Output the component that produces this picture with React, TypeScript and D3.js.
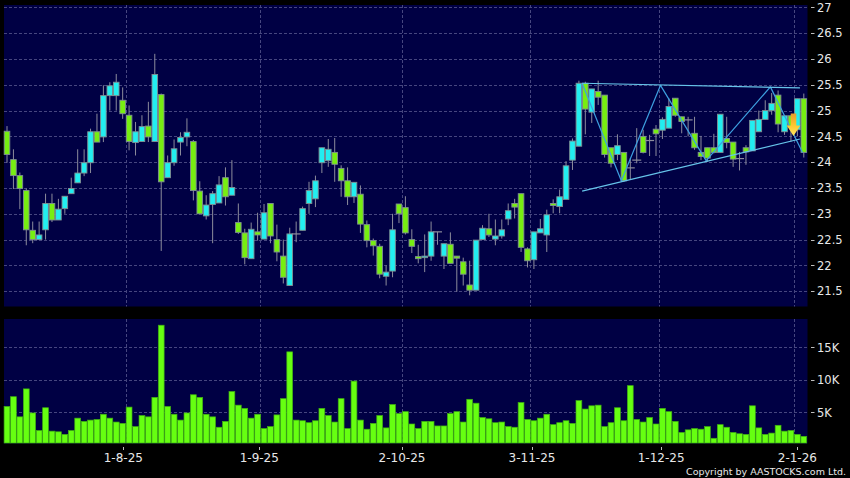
import React from "react";
import * as d3 from "d3";

const opens = [24.60,24.05,23.74,23.45,22.68,22.50,22.69,23.20,22.88,23.10,
23.39,23.60,23.79,23.99,24.59,24.49,25.29,25.29,25.20,24.91,
24.38,24.40,24.70,24.40,25.31,23.70,23.99,24.39,24.49,24.40,
23.44,22.96,23.18,23.21,23.70,23.36,22.83,22.63,22.13,22.65,
22.51,23.20,22.50,22.18,21.61,22.61,22.68,23.20,23.29,23.99,
24.03,24.19,23.88,23.64,23.33,23.38,22.79,22.48,22.37,21.79,
21.89,23.19,23.12,22.50,22.17,22.15,22.18,22.65,22.18,22.41,
22.18,22.07,21.62,21.52,22.50,22.71,22.51,22.57,22.90,23.20,
23.39,22.32,22.11,22.63,22.59,23.20,23.14,23.28,24.04,24.31,
25.53,24.97,25.37,25.30,24.28,24.15,24.19,23.89,24.04,24.50,
24.42,24.64,24.62,24.66,25.24,24.88,24.82,24.56,24.19,24.28,
24.28,24.19,24.46,24.39,24.07,24.28,24.22,24.59,24.83,25.00,
25.30,24.59,24.90,24.63,25.23];
const closes = [24.15,23.74,23.49,22.69,22.50,22.59,23.20,22.88,23.09,23.34,
23.49,23.79,23.99,24.59,24.39,25.29,25.48,25.55,24.94,24.40,
24.59,24.69,24.49,25.70,23.62,23.99,24.26,24.48,24.58,23.45,
23.00,23.17,23.39,23.56,23.33,23.51,22.64,22.15,22.70,22.59,
23.02,22.57,22.26,21.77,22.61,22.61,23.10,23.45,23.64,24.28,
24.25,23.96,23.64,23.33,23.61,22.80,22.48,22.38,21.83,21.87,
22.69,23.00,22.63,22.37,22.13,22.18,22.65,22.65,22.42,22.04,
22.14,21.83,21.52,22.49,22.72,22.59,22.57,22.69,23.06,23.13,
22.35,22.09,22.65,22.71,22.98,23.16,23.33,23.93,24.41,25.53,
25.03,25.42,25.26,24.15,23.98,24.32,23.64,23.89,24.04,24.19,
24.42,24.55,24.83,25.08,24.91,24.79,24.82,24.28,24.11,24.08,
24.19,24.93,24.38,24.06,24.07,24.20,24.81,24.83,25.00,25.14,
24.74,24.90,24.69,25.23,24.19];
const highs = [24.70,24.25,23.80,23.49,22.85,22.85,23.39,23.39,23.29,23.34,
23.70,24.25,24.25,24.65,24.94,25.49,25.55,25.71,25.45,25.10,
24.78,24.91,25.17,26.10,25.33,24.13,24.44,24.58,24.85,24.43,
23.63,23.36,23.44,23.73,23.90,24.04,23.20,22.71,22.83,23.02,
23.19,23.20,22.79,22.50,22.73,22.85,23.14,23.62,23.74,24.28,
24.45,24.47,23.94,23.90,23.61,23.55,22.87,22.52,22.42,22.00,
23.00,23.19,23.34,22.70,22.40,22.60,22.85,22.65,22.42,22.64,
22.18,22.15,22.09,22.49,22.78,23.00,22.89,22.89,23.20,23.29,
23.39,22.35,22.65,22.90,23.08,23.28,23.47,24.02,24.46,25.58,
25.56,25.42,25.58,25.30,24.28,24.54,24.19,24.08,24.66,24.63,
24.53,24.72,24.87,25.24,25.24,24.88,24.88,24.88,24.51,24.28,
24.55,24.93,24.88,24.39,24.20,24.33,24.81,25.00,25.20,25.34,
25.39,24.90,24.90,25.23,25.33];
const lows = [23.99,23.48,23.09,22.39,22.43,22.50,22.50,22.84,22.88,23.00,
23.39,23.60,23.73,23.79,24.39,24.39,25.00,25.00,24.84,24.23,
24.13,24.40,24.39,24.40,22.28,23.70,23.93,24.13,24.31,23.26,
23.00,22.89,22.43,23.21,23.16,23.36,22.61,22.02,22.13,22.48,
22.51,22.43,22.08,21.65,21.61,22.45,22.68,23.00,23.13,23.79,
23.91,23.62,23.33,23.17,23.21,22.63,22.35,22.19,21.75,21.61,
21.77,22.82,22.60,22.24,22.04,21.87,22.09,22.40,21.93,22.04,
21.49,21.61,21.42,21.52,22.50,22.55,22.39,22.52,22.78,22.91,
22.26,21.96,21.93,22.63,22.26,23.01,23.01,23.28,23.85,24.31,
24.54,24.76,25.11,24.09,23.90,24.04,23.62,23.67,23.98,24.17,
24.12,24.12,24.45,24.66,24.88,24.56,24.50,24.24,24.04,24.01,
24.17,24.19,24.27,23.91,23.84,23.95,24.22,24.59,24.83,24.92,
24.58,24.53,24.40,24.50,24.09];
const volumesK = [5.9,7.4,4.3,8.6,4.9,2.2,5.7,2.1,2.0,1.6,
2.2,4.1,3.6,3.8,3.9,4.7,4.1,3.5,3.3,5.8,
2.8,4.5,4.3,7.3,18.4,5.9,4.7,3.8,4.9,7.7,
7.3,4.7,4.3,2.7,3.6,8.2,6.1,5.6,4.1,4.7,
2.5,2.8,4.6,7.1,14.3,3.8,3.7,3.4,3.7,5.6,
4.5,3.5,7.1,2.5,9.8,3.8,2.4,3.3,4.5,2.6,
6.2,4.8,5.1,3.2,2.5,3.6,3.6,2.9,2.9,4.8,
5.1,3.5,7.0,6.4,4.2,4.0,3.4,3.5,2.8,2.7,
6.5,3.9,3.7,4.1,4.7,3.1,3.4,3.7,3.3,6.8,
5.5,6.0,6.1,2.8,3.4,5.7,3.7,9.1,3.9,3.5,
4.2,3.2,5.6,5.1,3.6,1.9,2.3,2.5,2.4,2.8,
1.0,3.1,2.7,1.9,1.7,1.6,6.0,2.6,1.6,1.8,
3.0,2.1,2.2,1.6,1.3];

const priceTicks = [27,26.5,26,25.5,25,24.5,24,23.5,23,22.5,22,21.5];
const volumeTicks = [5,10,15];
const dateLabels = ["1-8-25","1-9-25","2-10-25","3-11-25","1-12-25","2-1-26"];
const dateTickIndex = [18.1,39.26,61.47,81.7,101.8,123.0];
const dateGridIndex = [18.52,39.37,61.47,81.4,101.5,122.5];

const upperTrend: [number, number][] = [[89.5,25.53],[123.4,25.44]];
const lowerTrend: [number, number][] = [[89.5,23.44],[123.4,24.45]];
const zigzag: [number, number][] = [[89.5,25.53],[95.6,23.64],[101.7,25.49],[108.8,24.03],[118.8,25.46],[123.8,24.19]];
const arrowAt = { index: 122.4, price: 24.51 };

const W = 850, H = 478;
const plotL = 4, plotR = 807.5;
const priceTop = 5, priceBottom = 306.5;
const volTop = 319, volBottom = 443.5;

const BG = "#000044";
const GRID = "#46467f";
const WICK = "#8c8c9c";
const UP = "#22eef0";
const DOWN = "#77ee11";
const BODY_STROKE = "#7f8f92";
const VOL = "#66ff11";
const VOL_STROKE = "#3fae12";
const AXIS = "#e8e8e8";
const FONT = "'DejaVu Sans', sans-serif";

const x = d3.scaleLinear().domain([0, 124]).range([7, 803.8]);
const y = d3.scaleLinear().domain([27, 21.5]).range([7.4, 291.2]);
const yVol = d3.scaleLinear().domain([5, 15]).range([412.3, 347.3]);
const line = d3.line<[number, number]>().x(d => x(d[0])).y(d => y(d[1]));

const candles = opens.map((o, i) => ({ i, o, c: closes[i], h: highs[i], l: lows[i], v: volumesK[i] }));

export default function App() {
  const ax = x(arrowAt.index), ay = y(arrowAt.price);
  const arrowPath = `M${ax - 2.8},${ay - 22.5}H${ax + 2.8}V${ay - 10.5}H${ax + 6.8}L${ax},${ay}L${ax - 6.8},${ay - 10.5}H${ax - 2.8}Z`;
  return (
    <svg width={W} height={H} viewBox={`0 0 ${W} ${H}`} style={{ position: "absolute", left: 0, top: 0, display: "block" }}>
      <defs>
        <linearGradient id="arrowFill" x1="0" y1="0" x2="0" y2="1">
          <stop offset="0" stopColor="#e89a2a" />
          <stop offset="0.55" stopColor="#ffc832" />
          <stop offset="1" stopColor="#ffe860" />
        </linearGradient>
      </defs>
      <rect width={W} height={H} fill="#000" />
      <rect x={plotL} y={priceTop} width={plotR - plotL} height={priceBottom - priceTop} fill={BG} />
      <rect x={plotL} y={volTop} width={plotR - plotL} height={volBottom - volTop} fill={BG} />

      {/* grid */}
      <g stroke={GRID} strokeWidth={1} strokeDasharray="3 2" fill="none">
        {priceTicks.map(t => <line key={t} x1={plotL} x2={plotR} y1={Math.round(y(t)) + 0.5} y2={Math.round(y(t)) + 0.5} />)}
        {volumeTicks.map(t => <line key={t} x1={plotL} x2={plotR} y1={Math.round(yVol(t)) + 0.5} y2={Math.round(yVol(t)) + 0.5} />)}
        {dateGridIndex.map(t => (
          <g key={t}>
            <line x1={Math.round(x(t)) + 0.5} x2={Math.round(x(t)) + 0.5} y1={priceTop} y2={priceBottom} />
            <line x1={Math.round(x(t)) + 0.5} x2={Math.round(x(t)) + 0.5} y1={volTop} y2={volBottom} />
          </g>
        ))}
      </g>

      {/* candles */}
      <g>
        {candles.map(d => {
          const cx = x(d.i);
          const top = y(Math.max(d.o, d.c)), bot = y(Math.min(d.o, d.c));
          const doji = d.o === d.c;
          return (
            <g key={d.i}>
              <line x1={cx} x2={cx} y1={y(d.h)} y2={y(d.l)} stroke={WICK} strokeWidth={1} />
              {doji ? (
                <line x1={cx - 4.5} x2={cx + 4.5} y1={top} y2={top} stroke={WICK} strokeWidth={1.2} />
              ) : (
                <rect x={cx - 2.8} y={top} width={5.6} height={Math.max(bot - top, 1.5)}
                  fill={d.c > d.o ? UP : DOWN} stroke={BODY_STROKE} strokeWidth={0.9} />
              )}
            </g>
          );
        })}
      </g>

      {/* trend lines */}
      <g fill="none" strokeLinejoin="round">
        <path d={line(zigzag) as string} stroke="#3d9fe0" strokeWidth={1.2} />
        <path d={line(upperTrend) as string} stroke="#66c4ea" strokeWidth={1.2} />
        <path d={line(lowerTrend) as string} stroke="#66c4ea" strokeWidth={1.2} />
      </g>
      <path d={arrowPath} fill="url(#arrowFill)" />

      {/* volume */}
      <g>
        {candles.map(d => {
          const cx = x(d.i);
          const top = yVol(d.v);
          return <rect key={d.i} x={cx - 2.9} y={top} width={5.8} height={volBottom - 0.5 - top} fill={VOL} stroke={VOL_STROKE} strokeWidth={0.7} />;
        })}
      </g>

      {/* right axis */}
      <g fontFamily={FONT} fontSize={11.5} fill={AXIS}>
        {priceTicks.map(t => (
          <g key={t}>
            <line x1={811} x2={814.5} y1={Math.round(y(t)) + 0.5} y2={Math.round(y(t)) + 0.5} stroke="#bdbdbd" />
            <text x={817} y={y(t) + 4.2}>{t}</text>
          </g>
        ))}
        {volumeTicks.map(t => (
          <g key={t}>
            <line x1={811} x2={814.5} y1={Math.round(yVol(t)) + 0.5} y2={Math.round(yVol(t)) + 0.5} stroke="#bdbdbd" />
            <text x={817} y={yVol(t) + 4.2}>{t}K</text>
          </g>
        ))}
      </g>

      {/* date axis */}
      <g fontFamily={FONT} fontSize={12} fill={AXIS} textAnchor="middle">
        {dateLabels.map((s, i) => (
          <g key={s}>
            <line x1={Math.round(x(dateTickIndex[i])) + 0.5} x2={Math.round(x(dateTickIndex[i])) + 0.5} y1={447} y2={450} stroke="#bdbdbd" />
            <text x={x(dateTickIndex[i])} y={462}>{s}</text>
          </g>
        ))}
      </g>
      <text x={846} y={475} fontFamily={FONT} fontSize={9.5} fill={AXIS} textAnchor="end">Copyright by AASTOCKS.com Ltd.</text>
    </svg>
  );
}
